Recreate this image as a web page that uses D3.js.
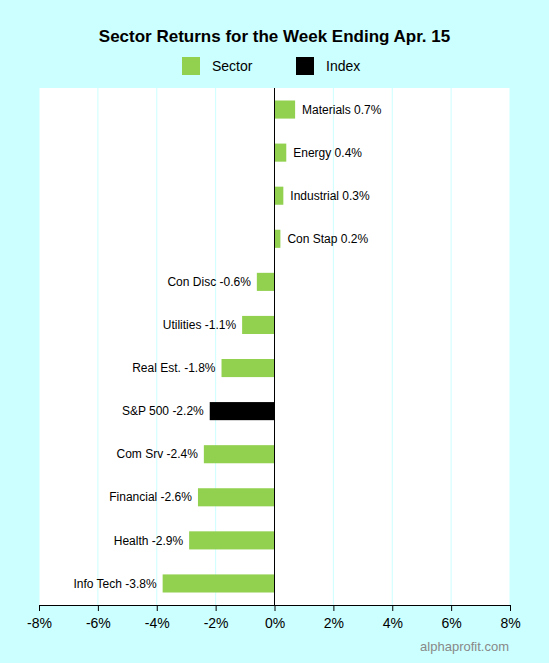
<!DOCTYPE html>
<html>
<head>
<meta charset="utf-8">
<script src="https://cdn.jsdelivr.net/npm/d3@7"></script>
<style>
  body { margin: 0; background: #ccffff; }
  svg { font-family: Arial, "Liberation Sans", sans-serif; }
</style>
</head>
<body>
<svg id="chart"></svg>
<script>
const categories = ["Materials", "Energy", "Industrial", "Con Stap", "Con Disc", "Utilities",
  "Real Est.", "S&P 500", "Com Srv", "Financial", "Health", "Info Tech"];
const returns = [0.7, 0.4, 0.3, 0.2, -0.6, -1.1, -1.8, -2.2, -2.4, -2.6, -2.9, -3.8];
const kinds = ["Sector", "Sector", "Sector", "Sector", "Sector", "Sector",
  "Sector", "Index", "Sector", "Sector", "Sector", "Sector"];
const xTicks = [-8, -6, -4, -2, 0, 2, 4, 6, 8];

const W = 549, H = 663;
const margin = { top: 88, right: 39, bottom: 58, left: 39 };
const width = W - margin.left - margin.right;
const height = H - margin.top - margin.bottom;
const colors = { Sector: "#92d050", Index: "#000000" };

const svg = d3.select("#chart").attr("width", W).attr("height", H);

svg.append("text")
  .attr("x", W / 2).attr("y", 42)
  .attr("text-anchor", "middle")
  .style("font-size", "17px").style("font-weight", "bold")
  .text("Sector Returns for the Week Ending Apr. 15");

const legend = svg.append("g");
[["Sector", 182], ["Index", 296]].forEach(([k, x]) => {
  legend.append("rect").attr("x", x).attr("y", 57).attr("width", 18).attr("height", 18)
    .attr("fill", colors[k]);
  legend.append("text").attr("x", x + 30).attr("y", 71).style("font-size", "14px").text(k);
});

const g = svg.append("g").attr("transform", `translate(${margin.left},${margin.top})`);

g.append("rect").attr("width", width).attr("height", height).attr("fill", "#fff");

const x = d3.scaleLinear().domain([-8, 8]).range([0, width]);
const y = d3.scaleBand().domain(categories).range([0, height]).paddingInner(0.58).paddingOuter(0.29);

g.selectAll(".grid").data(xTicks.filter(d => d !== 0)).enter().append("line")
  .attr("x1", d => x(d)).attr("x2", d => x(d))
  .attr("y1", 0).attr("y2", height)
  .attr("stroke", "#ccffff").attr("stroke-width", 1);

g.selectAll(".bar").data(categories).enter().append("rect")
  .attr("x", (d, i) => x(Math.min(0, returns[i])))
  .attr("y", d => y(d))
  .attr("width", (d, i) => Math.abs(x(returns[i]) - x(0)))
  .attr("height", y.bandwidth())
  .attr("fill", (d, i) => colors[kinds[i]]);

g.append("line").attr("x1", x(0)).attr("x2", x(0)).attr("y1", 0).attr("y2", height)
  .attr("stroke", "#000");

g.selectAll(".lbl").data(categories).enter().append("text")
  .attr("x", (d, i) => returns[i] >= 0 ? x(returns[i]) + 7 : x(returns[i]) - 6)
  .attr("y", d => y(d) + y.bandwidth() / 2)
  .attr("dy", "0.35em")
  .attr("text-anchor", (d, i) => returns[i] >= 0 ? "start" : "end")
  .style("font-size", "12px")
  .text((d, i) => `${d} ${returns[i]}%`);

const xAxis = d3.axisBottom(x).tickValues(xTicks).tickFormat(d => d + "%").tickSizeOuter(0).tickSize(6);
const ax = g.append("g").attr("transform", `translate(0,${height})`).call(xAxis);
ax.selectAll("text").style("font-size", "14px").attr("dy", "1em").attr("fill", "#000");
ax.selectAll("line, path").attr("stroke", "#000");

svg.append("text").attr("x", 509).attr("y", 651).attr("text-anchor", "end")
  .style("font-size", "13px").attr("fill", "#888").text("alphaprofit.com");
</script>
</body>
</html>
